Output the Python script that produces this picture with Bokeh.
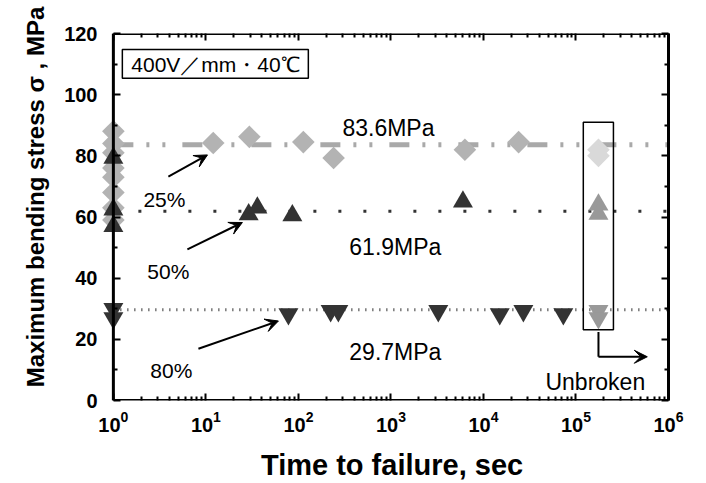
import numpy as np
from bokeh.plotting import figure
from bokeh.models import (Label, Arrow, VeeHead, BoxAnnotation, LinearAxis, LogAxis,
                          FixedTicker, Range1d, CustomJSTickFormatter)
from bokeh.embed import file_html
from bokeh.resources import INLINE

# ---- data ----
# 25 % load level (diamonds)
t25 = [1, 1, 1, 1, 1, 1, 1, 1, 12, 29.5, 113, 240, 6300, 24000]
s25 = [88, 84, 81, 76, 73, 68, 63, 59, 84.2, 86.2, 84.5, 79.3, 82, 84.5]
# 50 % load level (triangles)
t50 = [1, 1, 1, 29, 36, 86, 6000]
s50 = [79.3, 62.4, 57, 60.8, 63, 60.5, 65]
# 80 % load level (inverted triangles)
t80 = [1, 1, 78, 223, 270, 3250, 15000, 27000, 73000]
s80 = [30, 27, 28.3, 29.3, 29.3, 29.3, 28.3, 29.3, 28.3]
# unbroken specimens
t_unb = [175000, 175000]
s25_unb = [82, 80]
s50_unb = [64, 61]
s80_unb = [29.3, 27]
# mean stresses
means = [83.6, 61.9, 29.7]
mean_labels = ["83.6MPa", "61.9MPa", "29.7MPa"]
ratio_labels = ["25%", "50%", "80%"]
condition_label = "400V\uff0fmm\u30fb40\u2103"
unbroken_label = "Unbroken"
x_label = "Time to failure, sec"
y_label = "Maximum bending stress \u03c3 , MPa"
x_major = [1, 10, 100, 1e3, 1e4, 1e5, 1e6]
x_minor = [k * 10 ** d for d in range(6) for k in range(2, 10)]
y_major = [0, 20, 40, 60, 80, 100, 120]
X_MIN, X_MAX, Y_MIN, Y_MAX = 1, 1e6, 0, 120

FONT = "Liberation Sans"
NBSP = "\u00a0"

# frame extends a little left of x=1 so the markers on the axis are not clipped
p = figure(width=706, height=483, x_axis_type="log",
           x_range=Range1d(10 ** -0.15, X_MAX), y_range=Range1d(Y_MIN, Y_MAX),
           output_backend="svg", toolbar_location=None)
p.min_border_left = 99
p.min_border_right = 38
p.min_border_top = 33
p.min_border_bottom = 81
p.xgrid.visible = False
p.ygrid.visible = False
p.outline_line_color = None
p.background_fill_color = "white"
p.border_fill_color = "white"

bottom = p.below[0]
left = p.left[0]
top = LogAxis()
right = LinearAxis()
p.add_layout(top, "above")
p.add_layout(right, "right")

blank = CustomJSTickFormatter(code="return ''")
for ax in [bottom, top]:
    ax.ticker = FixedTicker(ticks=x_major, minor_ticks=x_minor)
for ax in [left, right]:
    ax.ticker = FixedTicker(ticks=y_major, minor_ticks=[v + 10 for v in y_major[:-1]])

for ax in [bottom, left, top, right]:
    ax.axis_line_width = 3
    ax.axis_line_color = "black"
    ax.major_tick_in = 7
    ax.major_tick_out = 0
    ax.minor_tick_in = 4
    ax.minor_tick_out = 0
    ax.major_tick_line_width = 2
    ax.minor_tick_line_width = 2
    ax.major_tick_line_color = "black"
    ax.minor_tick_line_color = "black"
    ax.major_label_text_font = FONT
    ax.major_label_text_font_style = "bold"
    ax.major_label_text_color = "black"
    ax.axis_label_text_font = FONT
    ax.axis_label_text_font_style = "bold"
    ax.axis_label_text_color = "black"

for ax in [top, right]:
    ax.formatter = blank
    ax.major_label_standoff = 0
    ax.major_label_text_font_size = "1px"

# axis lines that start at x = 1 are drawn below as annotations
for ax in [bottom, left, top]:
    ax.axis_line_alpha = 0

# left ticks sit on the x = 1 line, 14 px inside the frame edge
left.major_tick_out = -14
left.major_tick_in = 21
left.minor_tick_out = -14
left.minor_tick_in = 18

bottom.major_label_text_font_size = "20px"
bottom.major_label_standoff = 10
bottom.axis_label = NBSP * 2 + x_label
bottom.axis_label_text_font_size = "29px"
bottom.axis_label_standoff = 14

left.major_label_text_font_size = "20px"
left.major_label_standoff = 16
left.axis_label = NBSP * 6 + y_label
left.axis_label_text_font_size = "24px"
left.axis_label_standoff = 12

# ---- mean lines ----
line_styles = [dict(line_color="#a9a9a9", line_width=5, line_dash="20 13 3 13 3 17"),
               dict(line_color="#333333", line_width=3, line_dash="3 22"),
               dict(line_color="#333333", line_width=3, line_dash="1 6")]
for m, st in zip(means, line_styles):
    p.line([X_MIN, X_MAX], [m, m], **st)

# ---- markers ----
p.scatter(t25, s25, marker="square", size=16, angle=np.pi / 4,
          fill_color="#b3b3b3", line_color=None)
p.scatter(t50, s50, marker="triangle", size=20,
          fill_color="#333333", line_color=None)
p.scatter(t80, s80, marker="inverted_triangle", size=20,
          fill_color="#333333", line_color=None)
p.scatter(t_unb, s25_unb, marker="square", size=16, angle=np.pi / 4,
          fill_color="#d9d9d9", line_color=None)
p.scatter(t_unb, s50_unb, marker="triangle", size=20,
          fill_color="#999999", line_color=None)
p.scatter(t_unb, s80_unb, marker="inverted_triangle", size=20,
          fill_color="#999999", line_color=None)

# ---- axis lines from x = 1 ----
for (x0, y0, x1, y1) in [(X_MIN, Y_MIN, X_MAX, Y_MIN), (X_MIN, Y_MIN, X_MIN, Y_MAX),
                         (X_MIN, Y_MAX, X_MAX, Y_MAX)]:
    p.add_layout(Arrow(end=None, x_start=x0, y_start=y0, x_end=x1, y_end=y1,
                       line_color="black", line_width=3))

# ---- annotations ----
def lab(x, y, text, size="23px", align="left", baseline="alphabetic"):
    p.add_layout(Label(x=x, y=y, text=text, text_font=FONT, text_font_size=size,
                       text_color="black", text_align=align, text_baseline=baseline))

lab(299, 89.1, mean_labels[0])
lab(355, 50.1, mean_labels[1])
lab(355, 15.9, mean_labels[2])
lab(2.11, 65.7, ratio_labels[0], size="21px")
lab(2.33, 42.3, ratio_labels[1], size="21px")
lab(2.51, 9.8, ratio_labels[2], size="21px")

def arrow(x0, y0, x1, y1):
    p.add_layout(Arrow(end=VeeHead(size=13, fill_color="black", line_color="black", line_width=1),
                       x_start=x0, y_start=y0, x_end=x1, y_end=y1,
                       line_color="black", line_width=2))

arrow(3.93, 73.2, 10.4, 80.3)
arrow(6.31, 49.4, 24.8, 58.2)
arrow(8.3, 16.9, 60.8, 26.0)

# unbroken box and pointer
p.add_layout(BoxAnnotation(left=1.2e5, right=2.54e5, bottom=23.1, top=91,
                           fill_alpha=0, line_color="black", line_alpha=1, line_width=1.5))
p.add_layout(Arrow(end=None, x_start=1.75e5, y_start=22.4, x_end=1.75e5, y_end=14.3,
                   line_color="black", line_width=2))
arrow(1.75e5, 14.3, 5.9e5, 14.3)
lab(46800, 6.2, unbroken_label)

# condition box
p.add_layout(BoxAnnotation(left=1.25, right=128, bottom=105.4, top=114.8,
                           fill_color="white", fill_alpha=1, line_color="black",
                           line_alpha=1, line_width=1.5))
lab(12.7, 110.0, condition_label, size="21px", align="center", baseline="middle")

open("out.html", "w").write(file_html(p, INLINE))
